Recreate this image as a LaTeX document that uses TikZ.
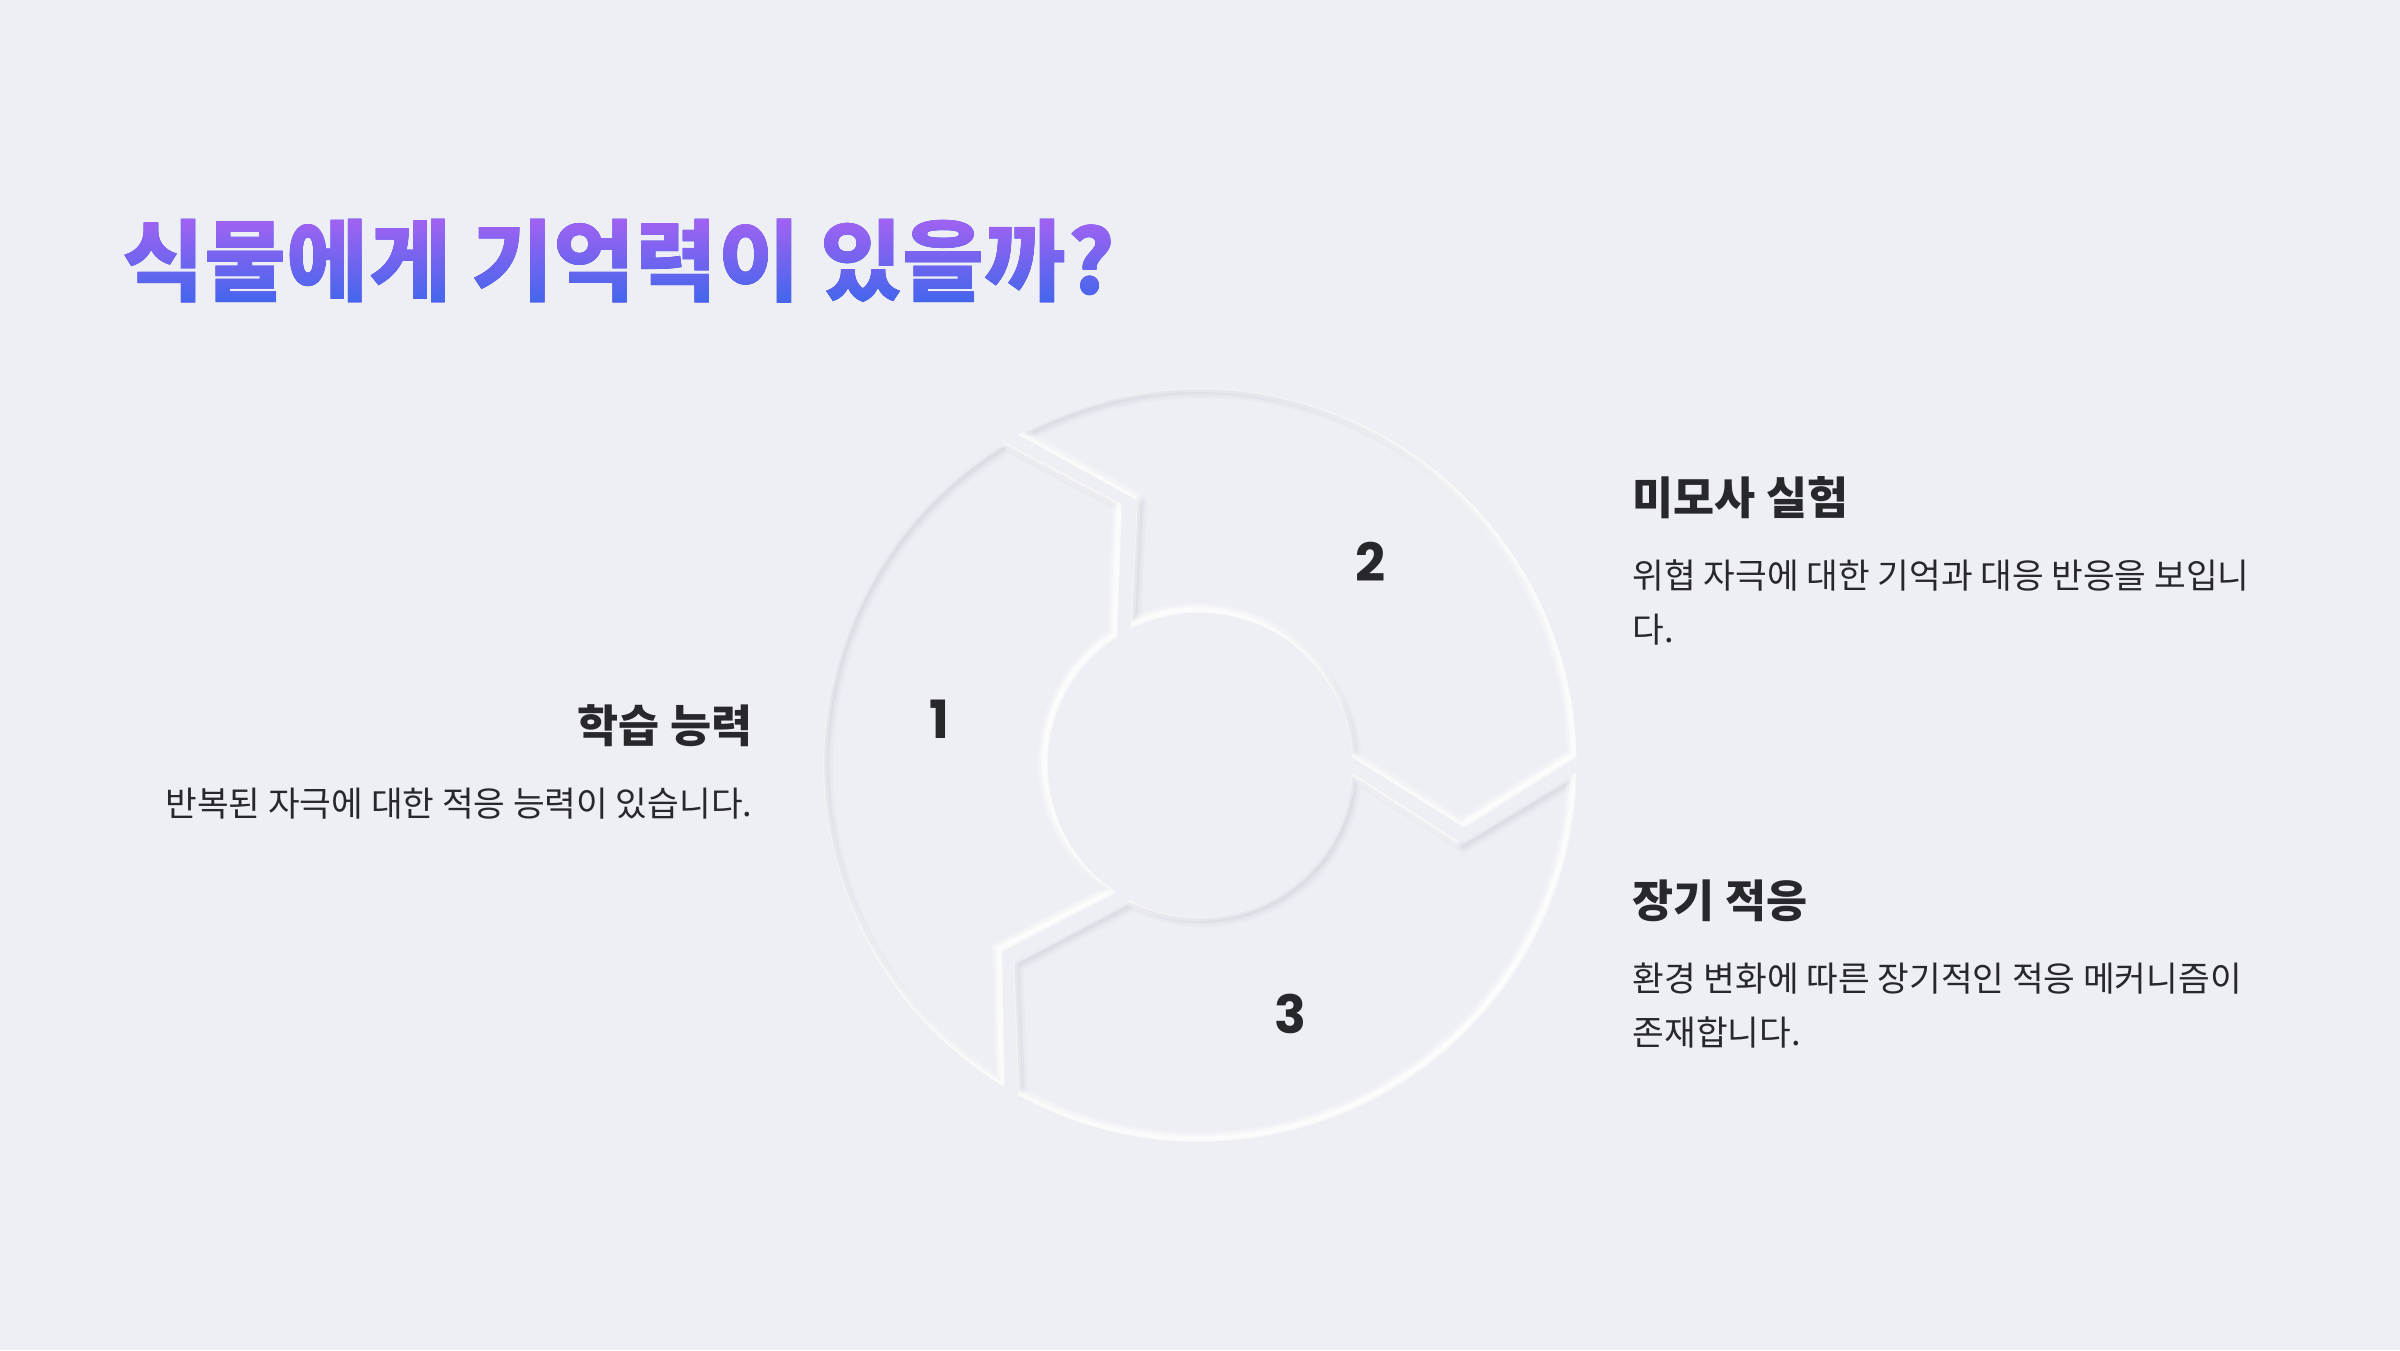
\documentclass[tikz,border=0pt]{standalone}
\usepackage{fontspec}
\setmainfont{Noto Sans CJK KR}
\newfontfamily\numfont{Poppins}
\usetikzlibrary{positioning}
\definecolor{bgcolor}{HTML}{EEEFF4}
\definecolor{insetshade}{HTML}{C4C6CF}
\definecolor{textdark}{HTML}{28282C}
\definecolor{titletop}{HTML}{A262F2}
\definecolor{titlebottom}{HTML}{4166EC}
\tikzstyle{title} = [inner sep=0pt, anchor=base west, font=\fontsize{25.4}{30}\selectfont\bfseries]
\tikzstyle{heading} = [inner sep=0pt, font=\fontsize{12.7}{15}\selectfont\bfseries, text=textdark]
\tikzstyle{body} = [inner sep=0pt, align=left, font=\fontsize{9.8}{15.4}\selectfont, text=textdark]
\tikzstyle{numlabel} = [inner sep=0pt, font=\numfont\fontsize{15}{18}\selectfont\bfseries, text=textdark]
\tikzstyle{insetdark} = [draw=insetshade, shift={(0.03,-0.03)}]
\tikzstyle{insetlight} = [draw=white, shift={(-0.03,0.03)}]
% segmento del anillo: #1 = angulo de la punta
\newcommand{\ringseg}[1]{({#1+1.14}:3.77) arc[start angle={#1+1.14}, end angle={#1+118.86}, radius=3.77]
  -- ({#1+103.42}:2.72) -- ({#1+117.17}:1.52)
  arc[start angle={#1+117.17}, end angle={#1+2.83}, radius=1.52]
  -- ({#1-13.42}:2.72) -- cycle}

\begin{document}
\begin{tikzpicture}
  \fill[bgcolor] (0,0) rectangle (24,-13.5);
  \useasboundingbox (0,0) rectangle (24,-13.5);

  % Titulo con degradado
  \node (title) [title, text=black] at (1.22,-2.94) {식물에게 기억력이 있을까?};
  \fill[top color=titletop, bottom color=titlebottom, blend mode=lighten]
    (title.south west) rectangle (title.north east);

  % Anillo de tres segmentos (sombra interior)
  \coordinate (hub) at (12,-7.65);
  \begin{scope}[shift={(hub)}]
    \foreach \h in {120,0,240} {
      \begin{scope}
        \clip \ringseg{\h};
        \draw[insetdark, line width=4pt, opacity=0.1] \ringseg{\h};
        \draw[insetdark, line width=2.4pt, opacity=0.15] \ringseg{\h};
        \draw[insetdark, line width=1.2pt, opacity=0.2] \ringseg{\h};
        \draw[insetlight, line width=4pt, opacity=0.3] \ringseg{\h};
        \draw[insetlight, line width=2.4pt, opacity=0.45] \ringseg{\h};
        \draw[insetlight, line width=1.2pt, opacity=0.6] \ringseg{\h};
      \end{scope}
    }
  \end{scope}

  % Numeros
  \node (n1) [numlabel] at ([shift={(170:2.65)}]hub) {1};
  \node (n2) [numlabel] at ([shift={(50:2.65)}]hub) {2};
  \node (n3) [numlabel] at ([shift={(-70:2.65)}]hub) {3};

  % Textos
  \node (learn) [heading, anchor=base east] at (7.53,-7.42) {학습 능력};
  \node (learntext) [body, below=0.4 of learn.south east, anchor=north east] {반복된 자극에 대한 적응 능력이 있습니다.};

  \node (mimosa) [heading, anchor=base west] at (16.32,-5.14) {미모사 실험};
  \node (mimosatext) [body, below=0.4 of mimosa.south west, anchor=north west] {위협 자극에 대한 기억과 대응 반응을 보입니\\다.};

  \node (longterm) [heading, anchor=base west] at (16.32,-9.17) {장기 적응};
  \node (longtermtext) [body, below=0.4 of longterm.south west, anchor=north west] {환경 변화에 따른 장기적인 적응 메커니즘이\\존재합니다.};

\end{tikzpicture}
\end{document}
